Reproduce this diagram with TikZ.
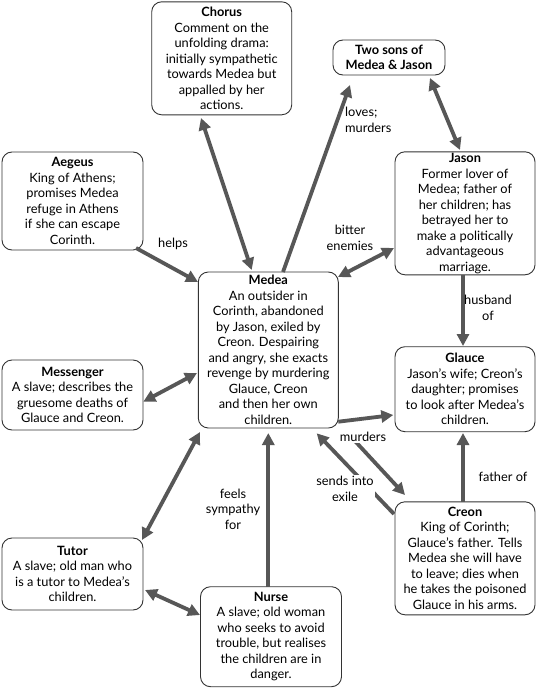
\documentclass[tikz,border=0pt]{standalone}
\usepackage{fontspec}
\setmainfont{Lato}
\usetikzlibrary{arrows.meta}
\definecolor{arrowgray}{HTML}{575757}
\definecolor{boxline}{HTML}{333333}
\tikzset{
  person/.style={draw=boxline, line width=0.9pt, rounded corners=10pt, fill=white,
    align=center, inner sep=0pt, font=\fontsize{12.8}{15.5}\selectfont},
  lbl/.style={align=center, inner sep=1pt, font=\fontsize{12.8}{15.5}\selectfont},
  link/.style={draw=arrowgray, line width=3.8pt, -{Triangle[length=12pt,width=12pt]}},
  dlink/.style={draw=arrowgray, line width=3.8pt, {Triangle[length=12pt,width=12pt]}-{Triangle[length=12pt,width=12pt]}},
}
\newcommand{\ttl}[1]{\textbf{#1}}
\begin{document}
\begin{tikzpicture}[x=1pt,y=-1pt]
\useasboundingbox[fill=white] (0,0) rectangle (536,688);

\node[person, minimum width=140pt, minimum height=113pt] (chorus) at (221.7,58.3)
  {\ttl{Chorus}\\Comment on the\\unfolding drama:\\initially sympathetic\\towards Medea but\\appalled by her\\actions.};
\node[person, minimum width=112pt, minimum height=35pt] (sons) at (389,57.5)
  {\ttl{Two sons of}\\\ttl{Medea \& Jason}};
\node[person, minimum width=141pt, minimum height=98pt] (aegeus) at (72.5,201)
  {\ttl{Aegeus}\\King of Athens;\\promises Medea\\refuge in Athens\\if she can escape\\Corinth.};
\node[person, minimum width=140pt, minimum height=123pt] (jason) at (465,213.3)
  {\ttl{Jason}\\Former lover of\\Medea; father of\\her children; has\\betrayed her to\\make a politically\\advantageous\\marriage.};
\node[person, minimum width=140pt, minimum height=156pt] (medea) at (268.3,350)
  {\ttl{Medea}\\An outsider in\\Corinth, abandoned\\by Jason, exiled by\\Creon. Despairing\\and angry, she exacts\\revenge by murdering\\Glauce, Creon\\and then her own\\children.};
\node[person, minimum width=141pt, minimum height=70pt] (messenger) at (72.5,395)
  {\ttl{Messenger}\\A slave; describes the\\gruesome deaths of\\Glauce and Creon.};
\node[person, minimum width=140pt, minimum height=85pt] (glauce) at (465,389.2)
  {\ttl{Glauce}\\Jason’s wife; Creon’s\\daughter; promises\\to look after Medea’s\\children.};
\node[person, minimum width=140pt, minimum height=113pt] (creon) at (465,558.3)
  {\ttl{Creon}\\King of Corinth;\\Glauce’s father. Tells\\Medea she will have\\to leave; dies when\\he takes the poisoned\\Glauce in his arms.};
\node[person, minimum width=141pt, minimum height=72pt] (tutor) at (72.5,574)
  {\ttl{Tutor}\\A slave; old man who\\is a tutor to Medea’s\\children.};
\node[person, minimum width=141pt, minimum height=100pt] (nurse) at (271,636.7)
  {\ttl{Nurse}\\A slave; old woman\\who seeks to avoid\\trouble, but realises\\the children are in\\danger.};

% connectors
\draw[dlink] ([shift={(-20.7,59.7)}]chorus.center) -- ([shift={(-16.6,-80)}]medea.center);
\draw[link] ([shift={(14.7,-78)}]medea.center) -- ([shift={(-39,27.5)}]sons.center);
\draw[dlink] ([shift={(41,20.5)}]sons.center) -- ([shift={(-5,-63.3)}]jason.center);
\draw[link] ([shift={(63.5,47)}]aegeus.center) -- ([shift={(-70.3,-68)}]medea.center);
\draw[dlink] ([shift={(69.7,-73)}]medea.center) -- ([shift={(-71,34.7)}]jason.center);
\draw[link] ([shift={(-2,61.7)}]jason.center) -- ([shift={(-2,-43.2)}]glauce.center);
\draw[dlink] ([shift={(70.8,6.7)}]messenger.center) -- ([shift={(-71.3,23)}]medea.center);
\draw[link] ([shift={(70,71.7)}]medea.center) -- ([shift={(-71.7,25.8)}]glauce.center);
\draw[link, shorten <=10pt] ([shift={(73.7,77)}]medea.center) -- ([shift={(-60,-63.3)}]creon.center);
\draw[link] ([shift={(-71,-44.3)}]creon.center) -- ([shift={(48.4,83.3)}]medea.center);
\draw[dlink] ([shift={(69.5,-34)}]tutor.center) -- ([shift={(-68.3,82)}]medea.center);
\draw[link] ([shift={(-2.7,-50)}]nurse.center) -- ([shift={(0,83)}]medea.center);
\draw[dlink] ([shift={(72.5,16)}]tutor.center) -- ([shift={(-71,-21.7)}]nurse.center);
\draw[link] ([shift={(-2,-56.6)}]creon.center) -- ([shift={(-2,43.8)}]glauce.center);

% labels
\node[lbl, anchor=west, align=left] (l1) at (344,120) {loves;\\murders};
\node[lbl] (l2) at (173,244) {helps};
\node[lbl] (l3) at (350,238) {bitter\\enemies};
\node[lbl] (l4) at (488,308) {husband\\of};
\node[lbl, fill=white] (l5) at (363,437) {murders};
\node[lbl, fill=white] (l6) at (345,489) {sends into\\exile};
\node[lbl] (l7) at (503,477) {father of};
\node[lbl] (l8) at (233,509) {feels\\sympathy\\for};
\end{tikzpicture}
\end{document}
